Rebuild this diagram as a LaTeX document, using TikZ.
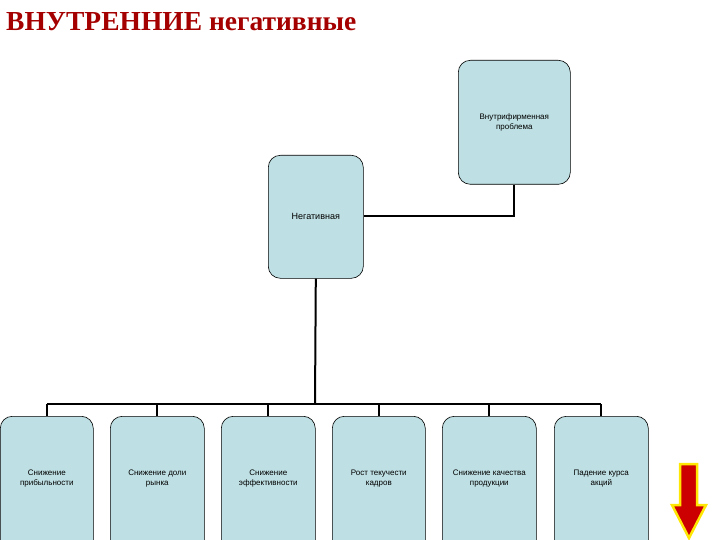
\documentclass[tikz,border=0pt]{standalone}
\usepackage{fontspec}
\setmainfont{Liberation Serif}
\newfontfamily\arialf{Liberation Sans}
\begin{document}
\begin{tikzpicture}[x=1pt,y=-1pt,
  box/.style={draw=black,line width=0.6pt,fill=boxfill,rounded corners=12pt,inner sep=0pt,
    font=\arialf\fontsize{8}{10}\selectfont,align=center,anchor=north west},
  conn/.style={line width=2pt,black}]
\definecolor{boxfill}{HTML}{BEDFE3}
\definecolor{titlered}{HTML}{A50000}
\useasboundingbox (0,0) rectangle (720,540);
\node[anchor=west,font=\bfseries\fontsize{27.5}{32}\selectfont,text=titlered,inner sep=0pt] (title) at (6,22) {ВНУТРЕННИЕ негативные};
\begin{scope}
\clip (0,0) rectangle (720,540);
\node[box,minimum width=112pt,minimum height=124pt] (top) at (458,60) {Внутрифирменная\\проблема};
\node[box,minimum width=95pt,minimum height=123pt,font=\arialf\fontsize{9}{11}\selectfont] (neg) at (268,155) {Негативная};
\node[box,minimum width=93pt,minimum height=136pt,text depth=14pt] (b1) at (0,416) {Снижение\\прибыльности};
\node[box,minimum width=94pt,minimum height=136pt,text depth=14pt] (b2) at (110,416) {Снижение доли\\рынка};
\node[box,minimum width=94pt,minimum height=136pt,text depth=14pt] (b3) at (221,416) {Снижение\\эффективности};
\node[box,minimum width=93pt,minimum height=136pt,text depth=14pt] (b4) at (332,416) {Рост текучести\\кадров};
\node[box,minimum width=94pt,minimum height=136pt,text depth=14pt] (b5) at (442,416) {Снижение качества\\продукции};
\node[box,minimum width=94pt,minimum height=136pt,text depth=14pt] (b6) at (554,416) {Падение курса\\акций};
\end{scope}
\coordinate (bar) at (315,404);
\draw[conn] (top.south) |- (neg.east |- 0,216);
\draw[conn] (neg.south) -- (bar);
\foreach \b in {b1,b2,b3,b4,b5,b6} \draw[conn] (\b.north) -- (\b.north |- bar);
\draw[conn] (b1.north |- bar) -- (b6.north |- bar);
\draw[line width=2.5pt,draw=yellow!90!orange,fill=red!80!black,line join=miter]
  (680,464) -- (697,464) -- (697,505) -- (706,505) -- (689,538) -- (672,505) -- (680,505) -- cycle;
\end{tikzpicture}
\end{document}
